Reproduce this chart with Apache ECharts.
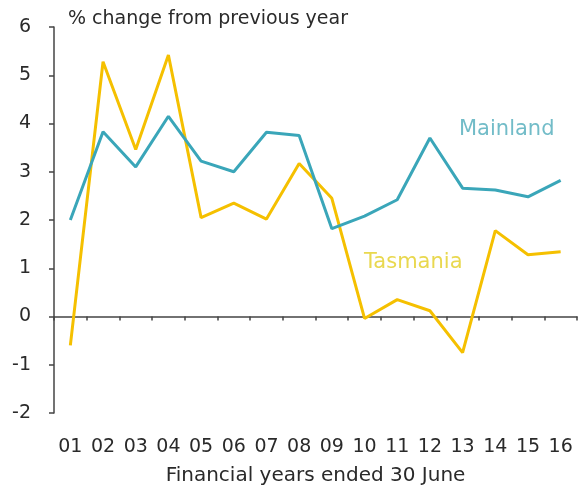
<!DOCTYPE html>
<html><head><meta charset="utf-8">
<script src="https://cdn.jsdelivr.net/npm/echarts@6/dist/echarts.min.js"></script>
<style>html,body{margin:0;padding:0;background:#fff}#c{width:579px;height:491px}</style>
</head><body><div id="c"></div>
<script>
const categories = ['01','02','03','04','05','06','07','08','09','10','11','12','13','14','15','16'];
const mainland = [2.0, 3.83, 3.1, 4.15, 3.22, 3.0, 3.82, 3.75, 1.82, 2.08, 2.42, 3.7, 2.66, 2.62, 2.48, 2.82];
const tasmania = [-0.6, 5.28, 3.46, 5.42, 2.05, 2.35, 2.02, 3.17, 2.45, -0.04, 0.35, 0.12, -0.75, 1.78, 1.28, 1.34];
const yTicks = {min: -2, max: 6, interval: 1};
const FONT = '"DejaVu Sans", sans-serif';
const chart = echarts.init(document.getElementById('c'));
chart.setOption({
  animation: false,
  backgroundColor: '#fff',
  grid: {left: 54, right: 2, top: 27, bottom: 77},
  graphic: [
    {type: 'text', left: 68, top: 10, style: {text: '% change from previous year', font: '19px ' + FONT, fill: '#2a2a2a'}},
    {type: 'text', left: 459, top: 119, style: {text: 'Mainland', font: '21px ' + FONT, fill: '#72BCC8'}},
    {type: 'text', left: 364, top: 252, style: {text: 'Tasmania', font: '21px ' + FONT, fill: '#E9D84F'}}
  ],
  xAxis: [
    {type: 'category', data: categories, boundaryGap: true, position: 'bottom',
     axisLine: {show: false, onZero: false}, axisTick: {show: false},
     axisLabel: {color: '#2a2a2a', fontSize: 19, fontFamily: FONT, margin: 25, interval: 0},
     name: 'Financial years ended 30 June', nameLocation: 'middle', nameGap: 53,
     nameTextStyle: {color: '#2a2a2a', fontSize: 20, fontFamily: FONT}},
    {type: 'category', data: categories, boundaryGap: true, position: 'bottom',
     axisLine: {show: true, onZero: true, onZeroAxisIndex: 0, lineStyle: {color: '#444', width: 1.5}},
     axisTick: {show: true, inside: false, length: 4, lineStyle: {color: '#444', width: 1.5}},
     axisLabel: {show: false}}
  ],
  yAxis: {type: 'value', min: yTicks.min, max: yTicks.max, interval: yTicks.interval,
    axisLine: {show: true, lineStyle: {color: '#444', width: 1.5}},
    axisTick: {show: true, length: 5, lineStyle: {color: '#444', width: 1.5}},
    splitLine: {show: false},
    axisLabel: {color: '#2a2a2a', fontSize: 19, fontFamily: FONT, margin: 23}},
  series: [
    {name: 'Mainland', type: 'line', data: mainland, xAxisIndex: 0, symbol: 'none',
     lineStyle: {color: '#3AA6B9', width: 3}, z: 3},
    {name: 'Tasmania', type: 'line', data: tasmania, xAxisIndex: 0, symbol: 'none',
     lineStyle: {color: '#F5C000', width: 3}, z: 2}
  ]
});
</script></body></html>
